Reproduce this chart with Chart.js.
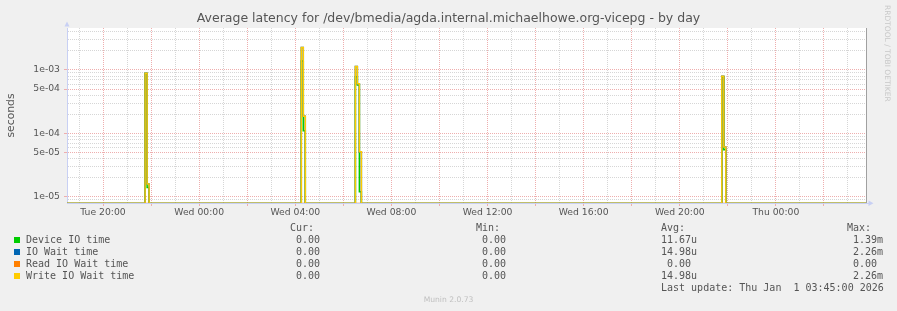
<!DOCTYPE html>
<html>
<head>
<meta charset="utf-8">
<script src="https://cdn.jsdelivr.net/npm/chart.js@4.4.1/dist/chart.umd.min.js"></script>
<style>
html,body{margin:0;padding:0;background:#f0f0f0;}
#wrap{position:relative;width:897px;height:311px;overflow:hidden;font-family:"DejaVu Sans",sans-serif;color:#555;}
#c{position:absolute;left:0;top:0;}
.m{position:absolute;white-space:pre;font-family:"DejaVu Sans Mono",monospace;font-size:10px;line-height:12px;color:#555;}
.sw{position:absolute;width:6px;height:6px;}
#rrd{position:absolute;left:883px;top:5px;writing-mode:vertical-rl;font-size:7.5px;line-height:9px;color:#c8c8c8;white-space:nowrap;}
#munin{position:absolute;left:0;width:897px;top:295px;text-align:center;font-size:7.6px;line-height:10px;color:#c0c0c0;}
</style>
</head>
<body>
<div id="wrap">
<canvas id="c" width="897" height="311"></canvas>
<div id="rrd">RRDTOOL / TOBI OETIKER</div>
<div id="legend"></div>
<div id="munin">Munin 2.0.73</div>
</div>
<script>
// ---- data (time in minutes since Tue 00:00, values in seconds) ----
const sampleMinutes = [1110, 1305, 1310, 1315, 1695, 1700, 1705, 1830, 1835, 1840, 1845, 2745, 2750, 2755, 3105];
const deviceIO      = [0, 8.8e-4, 1.4e-5, 0, 1.39e-3, 1.1e-4, 0, 7.8e-4, 5.8e-4, 1.2e-5, 0, 7.8e-4, 5.5e-5, 0, 0];
const ioWait        = [0, 8.9e-4, 1.58e-5, 0, 2.26e-3, 1.86e-4, 0, 1.14e-3, 6.08e-4, 5.13e-5, 0, 7.95e-4, 6.08e-5, 0, 0];
const readIOWait    = [0, 0, 0, 0, 0, 0, 0, 0, 0, 0, 0, 0, 0, 0, 0];
const writeIOWait   = [0, 8.9e-4, 1.58e-5, 0, 2.26e-3, 1.86e-4, 0, 1.14e-3, 6.08e-4, 5.13e-5, 0, 7.95e-4, 6.08e-5, 0, 0];

const seriesNames  = ["Device IO time", "IO Wait time", "Read IO Wait time", "Write IO Wait time"];
const seriesColors = ["#00cc00", "#0066b3", "#ff8000", "#ffcc00"];
const curValues = ["0.00", "0.00", "0.00", "0.00"];
const minValues = ["0.00", "0.00", "0.00", "0.00"];
const avgValues = ["11.67u", "14.98u", "0.00", "14.98u"];
const maxValues = ["1.39m", "2.26m", "0.00", "2.26m"];

const xLabelMinutes = [1200, 1440, 1680, 1920, 2160, 2400, 2640, 2880];
const xTickLabels   = ["Tue 20:00", "Wed 00:00", "Wed 04:00", "Wed 08:00", "Wed 12:00", "Wed 16:00", "Wed 20:00", "Thu 00:00"];
const xGridMinutes  = [1140,1200,1260,1320,1380,1440,1500,1560,1620,1680,1740,1800,1860,1920,1980,2040,2100,2160,2220,2280,2340,2400,2460,2520,2580,2640,2700,2760,2820,2880,2940,3000,3060];
const xMajorMinutes = [1200,1320,1440,1560,1680,1800,1920,2040,2160,2280,2400,2520,2640,2760,2880,3000];

const yLabelValues = [1e-5, 5e-5, 1e-4, 5e-4, 1e-3];
const yTickLabels  = ["1e-05", "5e-05", "1e-04", "5e-04", "1e-03"];
const yGridValues  = [9e-6, 1e-5, 2e-5, 3e-5, 4e-5, 5e-5, 6e-5, 7e-5, 8e-5, 9e-5,
                      1e-4, 2e-4, 3e-4, 4e-4, 5e-4, 6e-4, 7e-4, 8e-4, 9e-4,
                      1e-3, 2e-3, 3e-3, 4e-3];

const X_MIN = 1110, X_MAX = 3105;
const Y_MIN = 7.95e-6, Y_MAX = 4.6e-3;
const Y_ZERO = 7.83e-6; // where zero samples sit (just under the log axis floor)

// ---- helpers ----
const RED = "#eeaeae";
const GRAY = "#d6d6d6";
const NONE = "rgba(0,0,0,0)";
const AXIS = "#c8d0f4";
const near = (a, b) => Math.abs(a - b) <= Math.abs(b) * 1e-6;
const yLabelIndex = v => yLabelValues.findIndex(t => near(v, t));
const isMajorX = v => xMajorMinutes.includes(Math.round(v));
const pts = arr => sampleMinutes.map((m, i) => ({x: m, y: arr[i] > 0 ? arr[i] : Y_ZERO}));

const xGridColors = xGridMinutes.map(m => isMajorX(m) ? RED : GRAY);
const xTickColors = xGridMinutes.map(m => isMajorX(m) ? RED : NONE);
const yGridColors = yGridValues.map(v => yLabelIndex(v) >= 0 ? RED : GRAY);
const yTickColors = yGridValues.map(v => yLabelIndex(v) >= 0 ? RED : NONE);

const allSeries = [deviceIO, ioWait, readIOWait, writeIOWait];
const datasets = allSeries.map((arr, i) => ({
  label: seriesNames[i],
  data: pts(arr),
  borderColor: seriesColors[i],
  backgroundColor: seriesColors[i],
  borderWidth: 1.5,
  pointRadius: 0,
  stepped: true,
  fill: false,
  clip: 0,
  order: 3 - i
}));

const plotDecor = {
  id: 'plotDecor',
  beforeDraw(chart) {
    const {ctx, chartArea: a} = chart;
    ctx.save();
    ctx.fillStyle = '#ffffff';
    ctx.fillRect(a.left, a.top, a.right - a.left, a.bottom - a.top);
    ctx.restore();
  },
  afterDraw(chart) {
    const {ctx, chartArea: a} = chart;
    ctx.save();
    ctx.fillStyle = AXIS;
    ctx.strokeStyle = AXIS;
    ctx.beginPath();
    ctx.moveTo(a.left - 2.5, a.top - 1.5);
    ctx.lineTo(a.left + 2.5, a.top - 1.5);
    ctx.lineTo(a.left, a.top - 6.5);
    ctx.closePath();
    ctx.fill();
    ctx.beginPath();
    ctx.moveTo(a.right, a.bottom + 0.5);
    ctx.lineTo(a.right + 3, a.bottom + 0.5);
    ctx.stroke();
    ctx.beginPath();
    ctx.moveTo(a.right + 2.5, a.bottom - 2.5);
    ctx.lineTo(a.right + 2.5, a.bottom + 3);
    ctx.lineTo(a.right + 7.5, a.bottom + 0.25);
    ctx.closePath();
    ctx.fill();
    ctx.restore();
  }
};

new Chart(document.getElementById('c'), {
  type: 'line',
  data: {datasets},
  plugins: [plotDecor],
  options: {
    responsive: false,
    animation: false,
    devicePixelRatio: 1,
    layout: {padding: {left: 0, right: 0, top: 0, bottom: 0}},
    plugins: {
      legend: {display: false},
      tooltip: {enabled: false},
      title: {
        display: true,
        text: 'Average latency for /dev/bmedia/agda.internal.michaelhowe.org-vicepg - by day',
        color: '#555',
        font: {family: 'DejaVu Sans', size: 12.5, weight: 'normal', lineHeight: 1.2},
        padding: {top: 11.5, bottom: 1.5}
      }
    },
    scales: {
      x: {
        type: 'linear',
        min: X_MIN, max: X_MAX,
        bounds: 'data',
        afterBuildTicks: s => { s.ticks = xGridMinutes.map(v => ({value: v})); },
        afterFit: s => { s.height = 108; },
        ticks: {
          autoSkip: false, maxRotation: 0, minRotation: 0,
          padding: 1,
          color: '#555',
          font: {family: 'DejaVu Sans', size: 9.25},
          callback: v => { const i = xLabelMinutes.indexOf(Math.round(v)); return i >= 0 ? xTickLabels[i] : ''; }
        },
        grid: {
          color: xGridColors,
          tickColor: xTickColors,
          tickLength: 3,
          lineWidth: 1
        },
        border: {color: AXIS, width: 1, dash: [1, 1]}
      },
      y: {
        type: 'logarithmic',
        position: 'left',
        min: Y_MIN, max: Y_MAX,
        bounds: 'data',
        afterBuildTicks: s => { s.ticks = yGridValues.map(v => ({value: v})); },
        afterFit: s => { s.width = 67; },
        ticks: {
          autoSkip: false,
          padding: 4,
          color: '#555',
          font: {family: 'DejaVu Sans', size: 9.25},
          callback: v => { const i = yLabelIndex(v); return i >= 0 ? yTickLabels[i] : ''; }
        },
        grid: {
          color: yGridColors,
          tickColor: yTickColors,
          tickLength: 3,
          lineWidth: 1
        },
        border: {color: AXIS, width: 1, dash: [1, 1]},
        title: {
          display: true,
          text: 'seconds',
          color: '#555',
          font: {family: 'DejaVu Sans', size: 10.8, lineHeight: 1.2},
          padding: {top: 4.7, bottom: 0}
        }
      },
      yRight: {
        type: 'linear',
        position: 'right',
        min: 0, max: 1,
        afterFit: s => { s.width = 31; },
        ticks: {display: false},
        grid: {display: false},
        border: {display: true, color: '#a0a0a0', width: 1}
      }
    }
  }
});

// ---- HTML legend table ----
const legend = document.getElementById('legend');
function addText(txt, left, cy) {
  const d = document.createElement('div');
  d.className = 'm';
  d.textContent = txt;
  d.style.left = left + 'px';
  d.style.top = (cy - 6) + 'px';
  legend.appendChild(d);
}
const headerY = 228, rowY0 = 240, rowStep = 12;
addText('Cur:', 290, headerY);
addText('Min:', 476, headerY);
addText('Avg:', 661, headerY);
addText('Max:', 847, headerY);
const CH = 6.02;
function addRight(txt, rightEdge, cy) {
  addText(txt, rightEdge - txt.length * CH, cy);
}
seriesNames.forEach((name, i) => {
  const cy = rowY0 + i * rowStep;
  const sw = document.createElement('div');
  sw.className = 'sw';
  sw.style.background = seriesColors[i];
  sw.style.left = '14px';
  sw.style.top = (cy - 3) + 'px';
  legend.appendChild(sw);
  addText(name, 26, cy);
  const unitPad = v => /[a-z]$/.test(v) ? 0 : CH;
  addRight(curValues[i], 326 - unitPad(curValues[i]), cy);
  addRight(minValues[i], 512 - unitPad(minValues[i]), cy);
  addRight(avgValues[i], 697 - unitPad(avgValues[i]), cy);
  addRight(maxValues[i], 883 - unitPad(maxValues[i]), cy);
});
addText('Last update: Thu Jan  1 03:45:00 2026', 661, 288);
</script>
</body>
</html>
